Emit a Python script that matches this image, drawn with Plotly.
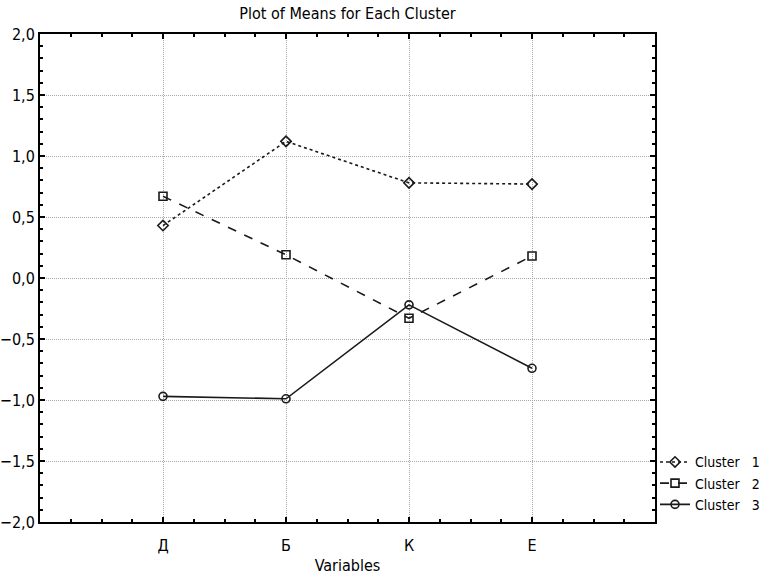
import plotly.graph_objects as go

# Cluster means per variable
variables = ["Д", "Б", "К", "Е"]
cluster_1 = [0.43, 1.12, 0.78, 0.77]
cluster_2 = [0.67, 0.19, -0.33, 0.18]
cluster_3 = [-0.97, -0.99, -0.22, -0.74]

series = [
    ("Cluster\u00a0\u00a0\u00a01", cluster_1, "dot", "diamond-open"),
    ("Cluster\u00a0\u00a0\u00a02", cluster_2, "dash", "square-open"),
    ("Cluster\u00a0\u00a0\u00a03", cluster_3, "solid", "circle-open"),
]

FONT = "Liberation Sans Narrow, DejaVu Sans Condensed, Arial Narrow, sans-serif"
x_pos = list(range(len(variables)))

fig = go.Figure()
for name, vals, dash, sym in series:
    fig.add_trace(go.Scatter(
        x=x_pos, y=vals, name=name, mode="lines+markers",
        line=dict(color="#1a1a1a", width=1.6, dash=dash),
        marker=dict(symbol=sym, size=8, color="#1a1a1a",
                    line=dict(width=1.6, color="#1a1a1a")),
    ))

axis_common = dict(
    showline=True, linecolor="black", linewidth=2, mirror="ticks",
    ticks="inside", ticklen=5, tickwidth=1.5, tickcolor="black",
    showgrid=True, gridcolor="#a8a8a8", griddash="1px,1px", gridwidth=1,
    zeroline=False, automargin=False,
    tickfont=dict(family=FONT, size=16, color="black"),
)

fig.update_xaxes(
    **axis_common,
    range=[-1, 4], tickmode="array", tickvals=x_pos, ticktext=variables,
    ticklabelstandoff=8,
    minor=dict(tickmode="linear", tick0=0, dtick=0.25, ticks="inside",
               ticklen=3, tickwidth=1.5, tickcolor="black", showgrid=False),
    title=dict(text="Variables", font=dict(family=FONT, size=16, color="black"),
               standoff=6),
)
fig.update_yaxes(
    **axis_common,
    range=[-2, 2], tickmode="linear", tick0=-2, dtick=0.5, tickformat=".1f",
    minor=dict(tickmode="linear", tick0=0, dtick=0.1, ticks="inside",
               ticklen=3, tickwidth=1.5, tickcolor="black", showgrid=False),
)

fig.update_layout(
    width=773, height=576,
    margin=dict(l=40, r=118, t=34, b=54, autoexpand=False),
    paper_bgcolor="white", plot_bgcolor="white",
    separators=",.",
    title=dict(text="Plot of Means for Each Cluster", x=(40 + 307.5) / 773,
               xanchor="center", y=1 - 13 / 576, yanchor="middle",
               font=dict(family=FONT, size=16, color="black")),
    legend=dict(x=1.0, xanchor="left", y=0.155, yanchor="top",
                font=dict(family=FONT, size=14, color="black"),
                bgcolor="rgba(0,0,0,0)", itemwidth=30, tracegroupgap=0),
    showlegend=True,
)

fig.write_html("out.html")
